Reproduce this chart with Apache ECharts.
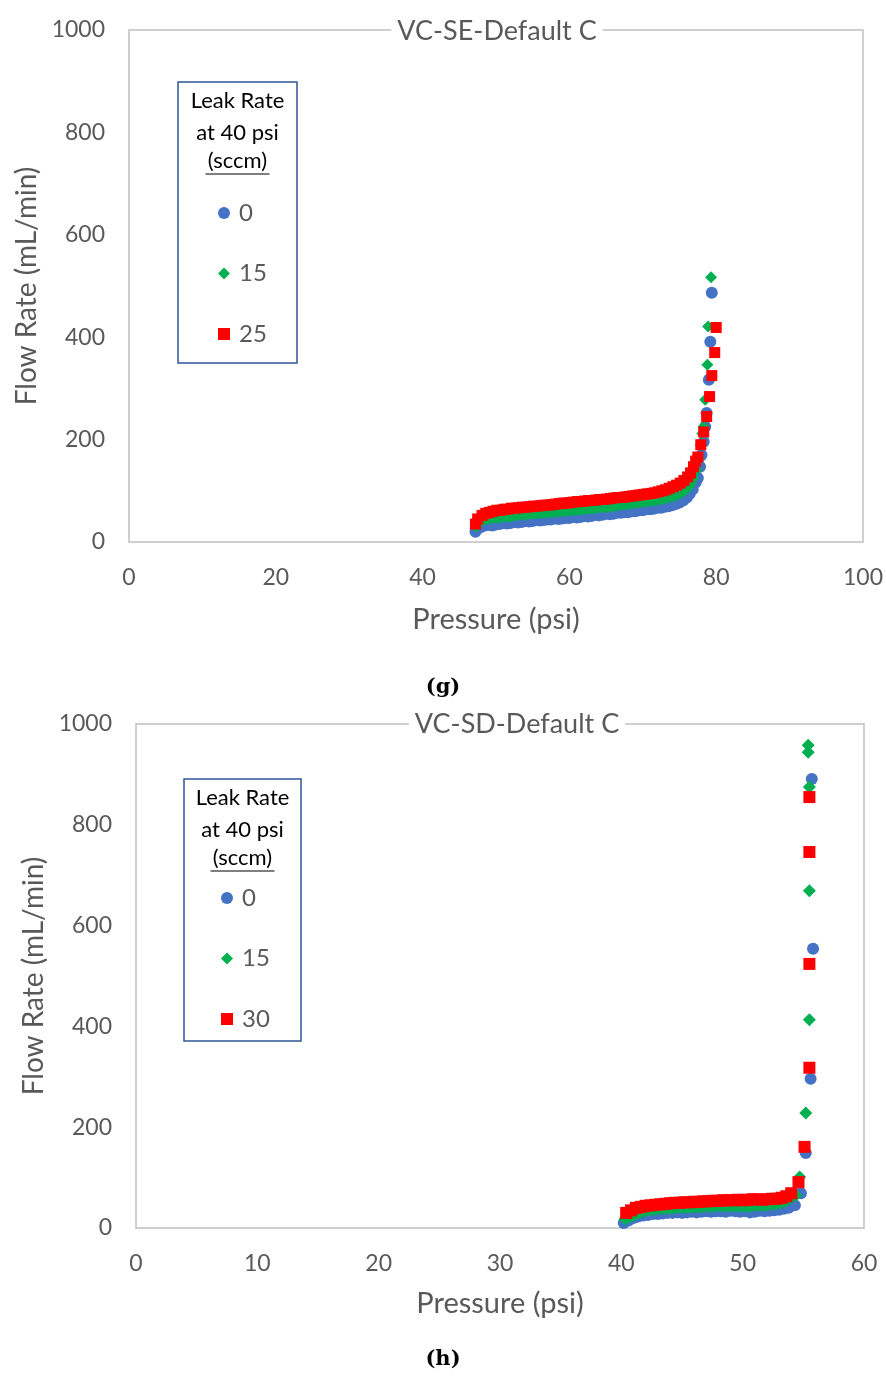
<!DOCTYPE html>
<html>
<head>
<meta charset="utf-8">
<script src="https://cdn.jsdelivr.net/npm/echarts@6/dist/echarts.min.js"></script>
<style>
  html, body { margin: 0; padding: 0; background: #fff; }
  #chart { width: 886px; height: 1382px; }
</style>
</head>
<body>
<div id="chart"></div>
<script>
// ---- Panel (g): VC-SE-Default C ----
const seName0 = '0', seName15 = '15', seName25 = '25';
const sePress0 = [47.2,47.6,48.0,48.5,49.0,49.5,50.0,50.5,51.0,51.5,
  52.0,52.5,53.0,53.5,54.0,54.5,55.0,55.5,56.0,56.5,
  57.0,57.5,58.0,58.5,59.0,59.5,60.0,60.5,61.0,61.5,
  62.0,62.5,63.0,63.5,64.0,64.5,65.0,65.5,66.0,66.5,
  67.0,67.5,68.0,68.5,69.0,69.5,70.0,70.5,71.0,71.5,
  72.0,72.5,73.0,73.5,74.0,74.5,75.0,75.5,76.0,
  76.4,76.8,77.2,77.5,77.8,78.0,78.3,78.5,78.7,79.0,79.2,79.4];
const seFlow0 = [20,27,30,32,33,32,34,35,37,36,
  37,39,38,39,41,40,41,43,42,43,
  44,44,46,45,46,47,47,49,48,49,
  51,50,51,53,52,53,55,54,55,57,
  57,58,58,60,60,62,62,64,64,65,
  67,67,69,70,72,74,77,81,87,
  94,103,116,125,147,170,196,225,252,317,391,487];

const sePress15 = [47.3,47.7,48.1,48.6,49.1,49.6,50.1,50.6,51.1,51.6,
  52.1,52.6,53.1,53.6,54.1,54.6,55.1,55.6,56.1,56.6,
  57.1,57.6,58.1,58.6,59.1,59.6,60.1,60.6,61.1,61.6,
  62.1,62.6,63.1,63.6,64.1,64.6,65.1,65.6,66.1,66.6,
  67.1,67.6,68.1,68.6,69.1,69.6,70.1,70.6,71.1,71.6,
  72.1,72.6,73.1,73.6,74.1,74.6,75.1,75.6,76.1,
  76.5,76.9,77.3,77.6,77.9,78.1,78.3,78.5,78.8,78.9,79.3];
const seFlow15 = [30,38,42,44,45,47,47,48,50,49,
  50,52,52,53,53,54,55,55,56,57,
  57,58,59,59,60,61,61,62,63,63,
  64,65,65,66,67,68,68,69,70,71,
  72,73,74,75,76,77,78,79,80,81,
  82,84,85,87,89,92,95,99,105,
  113,124,140,160,190,212,225,278,346,421,517];

const sePress25 = [47.2,47.5,48.1,48.6,49.1,49.6,50.1,50.6,51.1,51.6,
  52.1,52.6,53.1,53.6,54.1,54.6,55.1,55.6,56.1,56.6,
  57.1,57.6,58.1,58.6,59.1,59.6,60.1,60.6,61.1,61.6,
  62.1,62.6,63.1,63.6,64.1,64.6,65.1,65.6,66.1,66.6,
  67.1,67.6,68.1,68.6,69.1,69.6,70.1,70.6,71.1,71.6,
  72.1,72.6,73.1,73.6,74.1,74.6,75.1,75.6,76.1,
  76.5,76.9,77.2,77.5,77.9,78.3,78.7,79.1,79.4,79.8,80.0];
const seFlow25 = [35,45,52,56,58,60,62,62,64,64,
  66,66,67,68,68,69,70,70,71,72,
  72,73,74,75,76,76,77,78,79,79,
  80,81,81,82,83,83,84,85,86,87,
  87,88,89,90,91,92,93,94,95,96,
  98,100,102,105,108,111,115,120,127,
  135,147,158,166,190,215,245,284,325,370,419];

// ---- Panel (h): VC-SD-Default C ----
const sdName0 = '0', sdName15 = '15', sdName30 = '30';
const sdPress0 = [40.2,40.6,41.0,41.4,41.8,42.2,42.6,43.0,43.4,43.8,
  44.2,44.6,45.0,45.4,45.8,46.2,46.6,47.0,47.4,47.8,
  48.2,48.6,49.0,49.4,49.8,50.2,50.6,51.0,51.4,51.8,
  52.2,52.6,53.0,53.4,53.8,
  54.3,54.8,55.2,55.6,55.8,55.7];
const sdFlow0 = [10,15,20,23,25,26,28,28,29,30,
  30,31,30,31,32,31,32,33,32,33,
  33,32,34,33,32,33,31,32,34,33,
  34,35,36,38,40,
  45,69,149,296,554,891];

const sdPress15 = [40.3,40.7,41.1,41.5,41.9,42.3,42.7,43.1,43.5,43.9,
  44.3,44.7,45.1,45.5,45.9,46.3,46.7,47.1,47.5,47.9,
  48.3,48.7,49.1,49.5,49.9,50.3,50.7,51.1,51.5,51.9,
  52.3,52.7,53.1,53.5,53.9,
  54.4,54.7,55.2,55.5,55.5,55.5,55.4,55.4];
const sdFlow15 = [18,22,26,30,33,35,36,37,38,38,
  39,40,40,40,41,41,42,42,42,43,
  43,43,42,43,43,42,43,44,44,45,
  46,47,49,53,58,
  65,101,228,413,669,875,944,958];

const sdPress30 = [40.4,40.8,41.2,41.6,42.0,42.4,42.8,43.2,43.6,44.0,
  44.4,44.8,45.2,45.6,46.0,46.4,46.8,47.2,47.6,48.0,
  48.4,48.8,49.2,49.6,50.0,50.4,50.8,51.2,51.6,52.0,
  52.4,52.8,53.2,53.6,54.0,
  54.6,55.1,55.5,55.5,55.5,55.5];
const sdFlow30 = [30,35,40,42,44,45,46,47,48,49,
  50,50,51,51,52,52,53,53,54,54,
  55,55,55,56,55,56,57,57,56,57,
  58,58,60,63,69,
  91,161,318,524,746,855];

const yTicks = [0, 200, 400, 600, 800, 1000];

// ---- styling ----
const FONT = 'Lato, "Open Sans", sans-serif';
const GREY = '#595959';
const BLUE = '#4472c4', GREEN = '#00b050', RED = '#ff0000';

function pairs(xs, ys) { return xs.map((x, i) => [x, ys[i]]); }

function scatter(name, xs, ys, idx, symbol, size, color) {
  return {
    type: 'scatter', name, xAxisIndex: idx, yAxisIndex: idx,
    data: pairs(xs, ys), symbol, symbolSize: size,
    itemStyle: { color, opacity: 1 }, silent: true
  };
}

function xAxisFor(idx, max, interval, nameGap) {
  return {
    gridIndex: idx, type: 'value', min: 0, max, interval,
    axisLine: { show: false }, axisTick: { show: false }, splitLine: { show: false },
    axisLabel: { margin: 24, fontSize: 23, color: GREY, fontFamily: FONT, formatter: v => String(v) },
    name: 'Pressure (psi)', nameLocation: 'middle', nameGap,
    nameTextStyle: { fontSize: 29, color: GREY, fontFamily: FONT }
  };
}

function yAxisFor(idx, nameGap) {
  return {
    gridIndex: idx, type: 'value', min: yTicks[0], max: yTicks[yTicks.length - 1], interval: 200,
    axisLine: { show: false }, axisTick: { show: false }, splitLine: { show: false },
    axisLabel: { margin: 24, fontSize: 23, color: GREY, fontFamily: FONT, formatter: v => String(v) },
    name: 'Flow Rate (mL/min)', nameLocation: 'middle', nameGap,
    nameTextStyle: { fontSize: 28, color: GREY, fontFamily: FONT }
  };
}

function legendBox(x, y, w, h) {
  const cx = x + w / 2;
  const f = '22px ' + FONT;
  return [
    { type: 'rect', shape: { x, y, width: w, height: h },
      style: { fill: '#fff', stroke: '#2f5597', lineWidth: 1.5 }, z: 1 },
    { type: 'text', x: cx, y: y + 19, style: { text: 'Leak Rate', fill: '#000', font: f, align: 'center', verticalAlign: 'middle' }, z: 2 },
    { type: 'text', x: cx, y: y + 51, style: { text: 'at 40 psi', fill: '#000', font: f, align: 'center', verticalAlign: 'middle' }, z: 2 },
    { type: 'text', x: cx, y: y + 79, style: { text: '(sccm)', fill: '#000', font: f, align: 'center', verticalAlign: 'middle' }, z: 2 },
    { type: 'line', shape: { x1: cx - 32, y1: y + 92, x2: cx + 32, y2: y + 92 }, style: { stroke: '#000', lineWidth: 1.2 }, z: 2 }
  ];
}

function titleText(text, x, y) {
  return { type: 'text', x, y, z: 5,
    style: { text, fill: GREY, font: '27px ' + FONT, align: 'center', verticalAlign: 'middle',
      backgroundColor: '#fff', padding: [2, 6] } };
}

function panelTag(text, x, y) {
  return { type: 'text', x, y, z: 5,
    style: { text, fill: '#000', font: 'bold 21px "DejaVu Serif", "Liberation Serif", serif', align: 'center', verticalAlign: 'middle' } };
}

const legendText = { fontSize: 24, color: GREY, fontFamily: FONT, lineHeight: 21, padding: [0, 0, 0, 4] };

const chart = echarts.init(document.getElementById('chart'), null, { renderer: 'canvas' });

chart.setOption({
  animation: false,
  backgroundColor: '#fff',
  grid: [
    { left: 129, top: 30, width: 735, height: 512, show: true, borderColor: '#c0c0c0', borderWidth: 1.5, backgroundColor: 'transparent' },
    { left: 136, top: 724, width: 728, height: 504, show: true, borderColor: '#c0c0c0', borderWidth: 1.5, backgroundColor: 'transparent' }
  ],
  xAxis: [xAxisFor(0, 100, 20, 63), xAxisFor(1, 60, 10, 61)],
  yAxis: [yAxisFor(0, 85), yAxisFor(1, 87)],
  legend: [
    { data: [seName0, seName15, seName25], orient: 'vertical', left: 213, top: 196,
      itemWidth: 12, itemHeight: 12, itemGap: 36.5, z: 3, selectedMode: false, textStyle: legendText },
    { data: [sdName0, sdName15, sdName30], orient: 'vertical', left: 216, top: 881,
      itemWidth: 12, itemHeight: 12, itemGap: 36.5, z: 3, selectedMode: false, textStyle: legendText }
  ],
  series: [
    scatter(seName0, sePress0, seFlow0, 0, 'circle', 12, BLUE),
    scatter(seName15, sePress15, seFlow15, 0, 'diamond', 12, GREEN),
    scatter(seName25, sePress25, seFlow25, 0, 'rect', 11, RED),
    scatter(sdName0, sdPress0, sdFlow0, 1, 'circle', 12, BLUE),
    scatter(sdName15, sdPress15, sdFlow15, 1, 'diamond', 13, GREEN),
    scatter(sdName30, sdPress30, sdFlow30, 1, 'rect', 12, RED)
  ],
  graphic: [
    ...legendBox(178, 82, 119, 281),
    ...legendBox(184, 779, 117, 262),
    titleText('VC-SE-Default C', 497, 31),
    titleText('VC-SD-Default C', 517, 724),
    panelTag('(g)', 443, 688),
    panelTag('(h)', 443, 1360)
  ]
});
</script>
</body>
</html>
